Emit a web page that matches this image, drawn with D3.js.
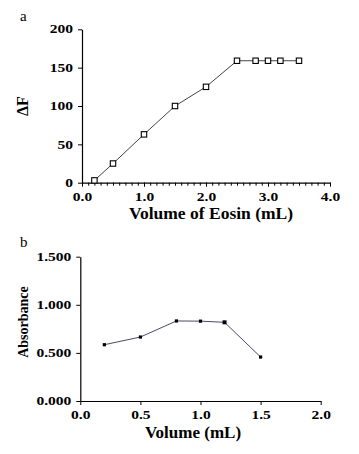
<!DOCTYPE html>
<html>
<head>
<meta charset="utf-8">
<script src="https://cdn.jsdelivr.net/npm/d3@7"></script>
<style>
  body { margin: 0; background: #fff; }
</style>
</head>
<body>
<div id="container"></div>
<script>
/* CONSTANTS AND GLOBALS */
const width = 359, height = 454;
const serif = "'Liberation Serif', 'Times New Roman', Times, 'DejaVu Serif', serif";

// panel a data
const eosinVolume = [0.2, 0.5, 1.0, 1.5, 2.0, 2.5, 2.8, 3.0, 3.2, 3.5];
const deltaF = [3, 25, 63, 100, 125, 159, 159, 159, 159, 159];
const aXTicks = [0, 1, 2, 3, 4];
const aYTicks = [0, 50, 100, 150, 200];

// panel b data
const volume = [0.2, 0.5, 0.8, 1.0, 1.2, 1.5];
const absorbance = [0.585, 0.665, 0.832, 0.830, 0.818, 0.457];
const bXTicks = [0, 0.5, 1.0, 1.5, 2.0];
const bYTicks = [0, 0.5, 1.0, 1.5];

const svg = d3.select("#container")
  .append("svg")
  .attr("width", width)
  .attr("height", height)
  .attr("font-family", serif);

// stretch tick labels sideways, like the scanned figure
function widen(sel, k) {
  sel.selectAll(".tick text").each(function () {
    const w = this.getComputedTextLength();
    d3.select(this).attr("textLength", w * k).attr("lengthAdjust", "spacingAndGlyphs");
  });
}

function styleAxis(g) {
  g.attr("font-family", serif);
  g.select(".domain").attr("stroke", "#000").attr("stroke-width", 1.2);
  g.selectAll(".tick line").attr("stroke", "#000").attr("stroke-width", 1);
  g.selectAll(".tick text")
    .attr("font-family", serif)
    .attr("font-size", 11.5)
    .attr("font-weight", "bold")
    .attr("fill", "#000");
}

/* PANEL A */
const xA = d3.scaleLinear().domain([0, 4]).range([82, 330]);
const yA = d3.scaleLinear().domain([0, 200]).range([182.7, 29.3]);

// minor ticks every 0.1
svg.append("g")
  .attr("transform", `translate(0,${yA(0)})`)
  .call(d3.axisBottom(xA).tickValues(d3.range(0, 41).map(i => i / 10)).tickSize(3).tickFormat(""))
  .call(g => g.select(".domain").remove())
  .selectAll(".tick line").attr("stroke", "#000");

svg.append("g")
  .attr("transform", `translate(0,${yA(0)})`)
  .call(d3.axisBottom(xA).tickValues(aXTicks).tickSize(4).tickSizeOuter(0).tickPadding(6).tickFormat(d3.format(".1f")))
  .call(styleAxis)
  .call(g => widen(g, 1.35));

svg.append("g")
  .attr("transform", `translate(${xA(0)},0)`)
  .call(d3.axisLeft(yA).tickValues(aYTicks).tickSize(4).tickSizeOuter(0).tickPadding(5))
  .call(styleAxis)
  .call(g => widen(g, 1.35));

svg.append("path")
  .datum(eosinVolume.map((v, i) => [v, deltaF[i]]))
  .attr("d", d3.line().x(d => xA(d[0])).y(d => yA(d[1])))
  .attr("fill", "none")
  .attr("stroke", "#444")
  .attr("stroke-width", 1);

svg.selectAll(".sqA")
  .data(eosinVolume.map((v, i) => [v, deltaF[i]]))
  .join("rect")
  .attr("class", "sqA")
  .attr("x", d => xA(d[0]) - 2.7)
  .attr("y", d => yA(d[1]) - 2.7)
  .attr("width", 5.4)
  .attr("height", 5.4)
  .attr("fill", "#fff")
  .attr("stroke", "#000")
  .attr("stroke-width", 1.1);

svg.append("text")
  .attr("x", 20).attr("y", 21)
  .attr("font-size", 15)
  .text("a");

svg.append("text")
  .attr("x", 211).attr("y", 219)
  .attr("text-anchor", "middle")
  .attr("font-size", 17.5)
  .attr("font-weight", "bold")
  .text("Volume of Eosin (mL)");

svg.append("text")
  .attr("transform", `translate(28,${yA(100)}) rotate(-90)`)
  .attr("text-anchor", "middle")
  .attr("font-size", 16)
  .attr("font-weight", "bold")
  .text("ΔF");

/* PANEL B */
const xB = d3.scaleLinear().domain([0, 2]).range([80.3, 320.7]);
const yB = d3.scaleLinear().domain([0, 1.5]).range([401, 256.7]);

svg.append("g")
  .attr("transform", `translate(0,${yB(0)})`)
  .call(d3.axisBottom(xB).tickValues(bXTicks).tickSize(4).tickSizeOuter(0).tickPadding(6).tickFormat(d3.format(".1f")))
  .call(styleAxis)
  .call(g => widen(g, 1.35));

svg.append("g")
  .attr("transform", `translate(${xB(0)},0)`)
  .call(d3.axisLeft(yB).tickValues(bYTicks).tickSize(4).tickSizeOuter(0).tickPadding(5).tickFormat(d3.format(".3f")))
  .call(styleAxis)
  .call(g => widen(g, 1.35));

svg.append("path")
  .datum(volume.map((v, i) => [v, absorbance[i]]))
  .attr("d", d3.line().x(d => xB(d[0])).y(d => yB(d[1])))
  .attr("fill", "none")
  .attr("stroke", "#4a4a68")
  .attr("stroke-width", 1);

svg.selectAll(".sqB")
  .data(volume.map((v, i) => [v, absorbance[i]]))
  .join("rect")
  .attr("class", "sqB")
  .attr("x", d => xB(d[0]) - (d[0] === 1.2 ? 2 : 1.6))
  .attr("y", d => yB(d[1]) - (d[0] === 1.2 ? 2 : 1.6))
  .attr("width", d => d[0] === 1.2 ? 4 : 3.2)
  .attr("height", d => d[0] === 1.2 ? 4 : 3.2)
  .attr("fill", "#000");

svg.append("text")
  .attr("x", 20).attr("y", 247)
  .attr("font-size", 15)
  .text("b");

svg.append("text")
  .attr("x", 193).attr("y", 438)
  .attr("text-anchor", "middle")
  .attr("font-size", 17)
  .attr("font-weight", "bold")
  .text("Volume (mL)");

svg.append("text")
  .attr("transform", `translate(28,322) rotate(-90)`)
  .attr("text-anchor", "middle")
  .attr("font-size", 14)
  .attr("font-weight", "bold")
  .text("Absorbance");
</script>
</body>
</html>
